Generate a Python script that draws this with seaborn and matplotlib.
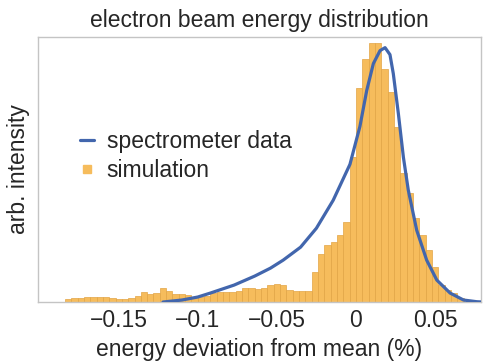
import numpy as np
import pandas as pd
import matplotlib
matplotlib.use("Agg")
import matplotlib.pyplot as plt
import seaborn as sns
from matplotlib.lines import Line2D

# --- data ---------------------------------------------------------------
# simulation histogram: bin centres (% energy deviation) and heights (arb.)
sim_centers = [
    -0.182, -0.178, -0.174, -0.170, -0.166, -0.162, -0.158, -0.154, -0.150, -0.146,
    -0.142, -0.138, -0.134, -0.130, -0.126, -0.122, -0.118, -0.114, -0.110, -0.106,
    -0.102, -0.098, -0.094, -0.090, -0.086, -0.082, -0.078, -0.074, -0.070, -0.066,
    -0.062, -0.058, -0.054, -0.050, -0.046, -0.042, -0.038, -0.034, -0.030, -0.026,
    -0.022, -0.018, -0.014, -0.010, -0.006, -0.002, 0.002, 0.006, 0.010, 0.014,
    0.018, 0.022, 0.026, 0.030, 0.034, 0.038, 0.042, 0.046, 0.050, 0.054,
    0.058, 0.062, 0.066,
]
sim_heights = [
    3, 4.5, 4.5, 5, 5, 5, 5, 4.5, 3.5, 3.5,
    4, 6, 10, 8, 9, 14, 11, 8, 8, 7,
    5, 5, 6, 9, 10, 10, 10, 11, 14, 14,
    13, 14, 17, 18, 17, 12, 11, 11, 11, 30,
    48, 57, 60, 67, 80, 145, 215, 244, 260, 260,
    234, 211, 175, 129, 109, 84, 67, 52, 35, 17,
    12, 9, 4,
]

# spectrometer data curve
spec_x = [-0.122, -0.110, -0.100, -0.092, -0.077, -0.064, -0.054, -0.046,
          -0.035, -0.025, -0.0144, -0.0038, 0.0025, 0.0068, 0.011,
          0.0152, 0.0184, 0.0215, 0.0236, 0.0268, 0.030, 0.0331, 0.0384,
          0.0447, 0.0511, 0.0595, 0.068, 0.0764, 0.080]
spec_y = [0, 2, 5, 9, 17, 26, 34, 42,
          55, 74, 102, 138, 176, 212, 239,
          252, 255, 248, 229, 189, 145, 112, 72,
          42, 22, 9, 2, 0.3, 0]

xticks = [-0.15, -0.1, -0.05, 0, 0.05]
xtick_labels = ["\u22120.15", "\u22120.1", "\u22120.05", "0", "0.05"]

# --- style ----------------------------------------------------------------
sns.set_theme(style="white")
plt.rcParams["font.family"] = ["Liberation Sans", "DejaVu Sans"]
text_col = "#262626"
bar_col = "#f6bc5c"
bar_edge = "#e2a445"
line_col = "#4266ad"

fig = plt.figure(figsize=(4.83, 3.63), dpi=100)
ax = fig.add_axes([0.0787, 0.168, 0.917, 0.731])

sim_df = pd.DataFrame({"x": sim_centers, "w": sim_heights})
spec_df = pd.DataFrame({"x": spec_x, "y": spec_y})

sns.histplot(data=sim_df, x="x", weights="w", binwidth=0.004,
             binrange=(-0.184, 0.068), color=bar_col, alpha=1.0,
             edgecolor=bar_edge, linewidth=0.5, ax=ax, zorder=1)
sns.lineplot(data=spec_df, x="x", y="y", color=line_col, linewidth=2.3,
             ax=ax, zorder=3)

ax.set_xlim(-0.201, 0.079)
ax.set_ylim(0, 266)
ax.set_xticks(xticks)
ax.set_xticklabels(xtick_labels, fontsize=16.5, color=text_col)
ax.set_yticks([])
ax.tick_params(axis="x", length=0, pad=5)
for s in ax.spines.values():
    s.set_color("#c4c4c4")
    s.set_linewidth(1.0)

ax.set_xlabel("energy deviation from mean (%)", fontsize=16.5, color=text_col, labelpad=4)
ax.set_ylabel("arb. intensity", fontsize=16.5, color=text_col, labelpad=6)
ax.set_title("electron beam energy distribution", fontsize=16.5, color=text_col, pad=7)

handles = [
    Line2D([], [], color=line_col, linewidth=2.3),
    Line2D([], [], color=bar_col, marker="s", linestyle="none", markersize=6),
]
ax.legend(handles, ["spectrometer data", "simulation"], loc="center left",
          bbox_to_anchor=(0.07, 0.55), frameon=False, fontsize=16.5,
          handlelength=0.6, handletextpad=0.55, labelspacing=0.25, borderpad=0,
          labelcolor=text_col)

fig.savefig("out.png", dpi=100)
